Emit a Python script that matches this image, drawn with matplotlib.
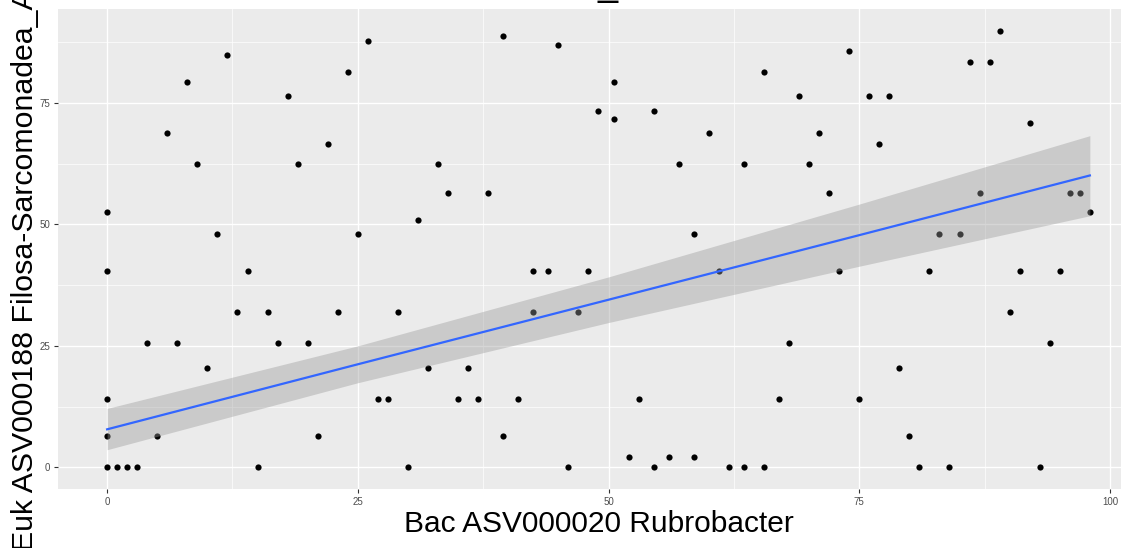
import numpy as np
import matplotlib
matplotlib.use("Agg")
import matplotlib.pyplot as plt
from matplotlib.ticker import MultipleLocator

plt.rcParams['font.family'] = ['Liberation Sans', 'DejaVu Sans']

# data
bac = [0, 0, 0, 0, 0, 1, 2, 3, 4, 5, 6, 7, 8, 9, 10, 11, 12, 13, 14, 15,
       16, 17, 18, 19, 20, 21, 22, 23, 24, 25, 26, 27, 28, 29, 30, 31, 32, 33, 34, 35,
       36, 37, 38, 39.5, 39.5, 41, 42.5, 42.5, 44, 45, 46, 47, 48, 49, 50.5, 50.5,
       52, 53, 54.5, 54.5, 56, 57, 58.5, 58.5, 60, 61, 62, 63.5, 63.5, 65.5, 65.5,
       67, 68, 69, 70, 71, 72, 73, 74, 75, 76, 77, 78, 79, 80, 81, 82, 83, 84, 85,
       86, 87, 88, 89, 90, 91, 92, 93, 94, 95, 96, 97, 98]
euk = [52.5, 40.5, 14.0, 6.5, 0, 0, 0, 0, 25.5, 6.5, 68.9, 25.5, 79.3, 62.4, 20.5, 48.0, 84.9, 32.0, 40.5, 0,
       32.0, 25.5, 76.4, 62.4, 25.5, 6.5, 66.5, 32.0, 81.4, 48.0, 87.9, 14.0, 14.0, 32.0, 0, 51.0, 20.5, 62.4, 56.4, 14.0,
       20.5, 14.0, 56.4, 88.8, 6.5, 14.0, 40.5, 32.0, 40.5, 86.9, 0, 32.0, 40.5, 73.4, 79.3, 71.8,
       2.1, 14.0, 73.4, 0, 2.1, 62.4, 48.0, 2.1, 68.9, 40.5, 0, 62.4, 0, 81.4, 0,
       14.0, 25.5, 76.4, 62.4, 68.9, 56.4, 40.5, 85.8, 14.0, 76.4, 66.5, 76.4, 20.5, 6.5, 0, 40.5, 48.0, 0, 48.0,
       83.4, 56.4, 83.4, 89.9, 32.0, 40.5, 70.9, 0, 25.5, 40.5, 56.4, 56.4, 52.5]

# lm smooth and its 95% band
# (overlapping points hide in the scatter, so the fit is taken as drawn)
smooth_x = [0, 25, 50, 75, 98]
smooth_fit = [7.8, 21.2, 34.5, 47.8, 60.1]
smooth_lo = [3.6, 17.4, 29.8, 41.4, 51.8]
smooth_hi = [12.1, 25.0, 39.2, 54.2, 68.3]

x_label = "Bac ASV000020 Rubrobacter"
y_label = "Euk ASV000188 Filosa-Sarcomonadea_A"

x = np.array(bac, dtype=float)
y = np.array(euk, dtype=float)

W, H = 1121, 548
fig = plt.figure(figsize=(W / 100, H / 100), dpi=100)

# axes run past the right edge, the original image was cropped
ax = fig.add_axes([58 / W, 59 / H, 1081 / W, 480 / H])
ax.set_facecolor('#EBEBEB')
for sp in ax.spines.values():
    sp.set_visible(False)

ax.scatter(x, y, s=20, color='black', linewidths=0, zorder=3)
ax.fill_between(smooth_x, smooth_lo, smooth_hi, color='#999999', alpha=0.4,
                linewidth=0, zorder=4)
ax.plot(smooth_x, smooth_fit, color='#3366FF', linewidth=1.6, zorder=5)

xr = x.max() - x.min()
yr = y.max() - y.min()
ax.set_xlim(x.min() - 0.05 * xr, x.max() + 0.05 * xr)
ax.set_ylim(y.min() - 0.05 * yr, y.max() + 0.05 * yr)

ax.xaxis.set_major_locator(MultipleLocator(25))
ax.yaxis.set_major_locator(MultipleLocator(25))
ax.xaxis.set_minor_locator(MultipleLocator(12.5))
ax.yaxis.set_minor_locator(MultipleLocator(12.5))
ax.grid(which='major', color='white', linewidth=1.0, zorder=0)
ax.grid(which='minor', color='white', linewidth=0.5, zorder=0)
ax.set_axisbelow(True)
ax.tick_params(which='major', length=3, width=0.8, color='#333333',
               labelsize=7, labelcolor='#4D4D4D', pad=2.5)
ax.tick_params(which='minor', length=0)

fig.text(599 / W, 15.5 / H, x_label, fontsize=21.5, ha='center', va='baseline')
fig.text(33 / W, -3 / H, y_label, fontsize=21.8, rotation=90,
         rotation_mode='anchor', ha='left', va='baseline')

# the cropped title: only its underscore still shows at the top edge
fig.text(608 / W, (H + 4) / H, "_", fontsize=26, ha='center', va='baseline')

fig.savefig("out.png", dpi=100)
